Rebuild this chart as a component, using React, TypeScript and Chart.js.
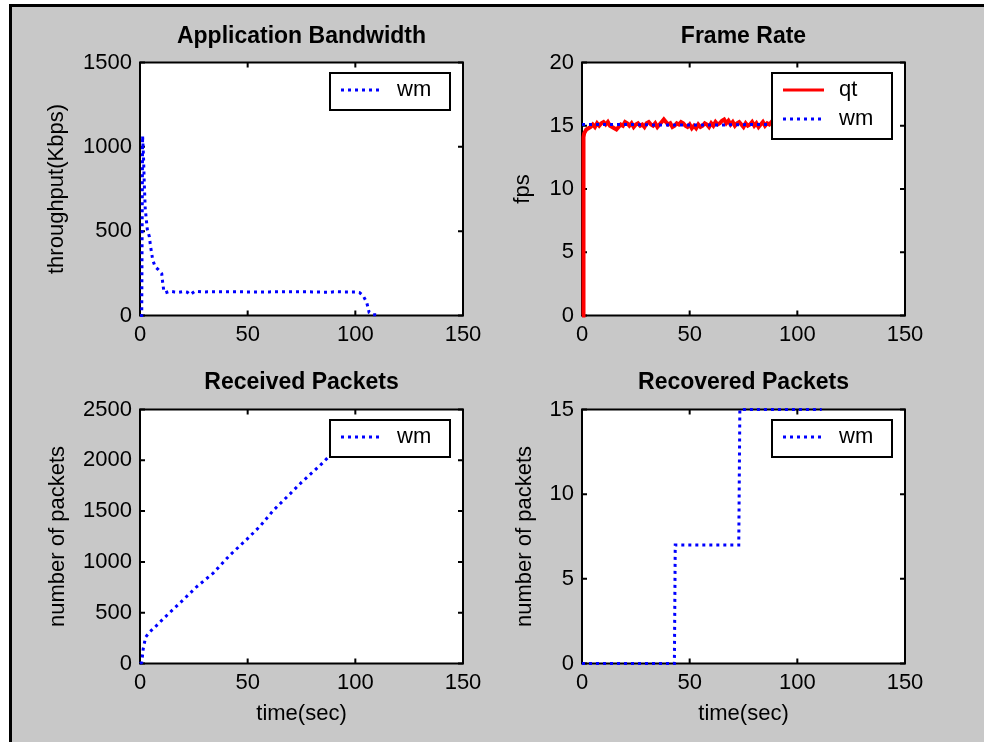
import { useEffect, useRef } from "react";
import { Chart, registerables } from "chart.js";

Chart.register(...registerables);

const FONT = '"Liberation Sans", Arial, Helvetica, sans-serif';
const BLUE = "#0000ff";
const RED = "#ff0000";

// ---- Application Bandwidth (wm), Kbps over time ----
const bwTime = [
  0, 0.8, 1.2, 1.6, 2.0, 2.4, 3.0, 3.4, 4.3, 4.9, 5.4, 5.9, 7.0, 8.5, 10.1, 10.4,
  11.0, 11.6, 13.9, 16, 18, 20, 22, 23.2, 25.5, 30, 40, 50, 60, 70, 80, 88, 90, 95,
  100, 102, 103.6, 105.3, 106.4, 108, 110,
];
const bwKbps = [
  0, 0, 1065, 950, 780, 640, 560, 510, 470, 410, 370, 330, 290, 272, 248, 210,
  150, 134, 144, 140, 138, 142, 138, 124, 144, 140, 141, 140, 140, 141, 140, 137, 141, 140,
  140, 135, 118, 77, 18, 5, 4,
];

// ---- Frame Rate, fps over time ----
const qtTime = [
  0, 0.6, 0.7, 1, 2, 3, 4, 5, 6, 7, 8, 9, 10, 11, 12, 13, 14, 15, 16, 17, 18, 19, 20,
  21, 22, 23, 24, 25, 26, 27, 28, 29, 30, 31, 32, 33, 34, 35, 36, 37, 38, 39, 40,
  41, 42, 43, 44, 45, 46, 47, 48, 49, 50, 51, 52, 53, 54, 55, 56, 57, 58, 59, 60,
  61, 62, 63, 64, 65, 66, 67, 68, 69, 70, 71, 72, 73, 74, 75, 76, 77, 78, 79, 80,
  81, 82, 83, 84, 85, 86, 87, 88, 89, 90, 91, 92, 93, 94, 95, 96, 97, 98, 99, 100,
  101, 102, 103, 104, 105, 106, 107, 108, 109, 110,
];
const qtFps = [
  0, 0, 14.1, 14.4, 14.7, 14.8, 14.9, 15.1, 14.9, 15.2, 15.0, 15.2, 15.3, 15.1, 15.3, 15.0, 14.9, 14.8, 14.7, 14.9, 15.1, 15.0, 15.3,
  15.2, 15.0, 15.2, 14.9, 15.1, 15.2, 15.0, 15.1, 14.9, 15.2, 15.3, 15.1, 15.0, 15.2, 14.9, 15.1, 15.3, 15.5, 15.3, 15.1,
  15.2, 14.9, 15.0, 15.2, 15.1, 15.3, 15.2, 15.0, 14.9, 15.1, 14.8, 15.0, 14.8, 15.1, 14.9, 15.0, 15.2, 15.1, 14.9, 15.2,
  15.0, 15.3, 15.1, 15.2, 15.4, 15.5, 15.2, 15.4, 15.1, 15.3, 15.0, 15.2, 15.3, 15.1, 14.9, 15.2, 15.0, 15.1, 15.3, 15.0,
  15.2, 14.9, 15.1, 15.3, 15.0, 15.2, 15.1, 15.3, 15.0, 15.2, 15.1, 14.9, 15.2, 15.0, 15.1, 15.3, 15.0, 15.2, 15.1, 14.9,
  15.2, 15.0, 15.1, 15.2, 15.0, 15.1, 15.3, 15.0, 15.1, 15.2,
];
const wmFpsTime = [0, 20, 40, 60, 80, 110];
const wmFps = [15.1, 15.1, 15.05, 15.05, 15.1, 15.1];

// ---- Received Packets (cumulative) ----
const rcvTime = [
  0, 0.8, 1.5, 2.6, 4.5, 6.9, 10.8, 15, 20, 26.3, 34, 41.8, 49.5, 55.7, 61.9,
  69.7, 75.1, 83.6, 88.2, 95, 100, 104, 106,
];
const rcvPackets = [
  0, 10, 145, 259, 310, 357, 440, 525, 625, 755, 890, 1068, 1220, 1350, 1506,
  1670, 1785, 1949, 2047, 2180, 2280, 2350, 2370,
];

// ---- Recovered Packets (cumulative) ----
const recTime = [0, 42.9, 43.3, 72.8, 73.3, 111.3];
const recPackets = [0, 0, 7, 7, 15, 15];

// ---- Axis ticks ----
const timeTicks = [0, 50, 100, 150];
const bwTicks = [0, 500, 1000, 1500];
const fpsTicks = [0, 5, 10, 15, 20];
const rcvTicks = [0, 500, 1000, 1500, 2000, 2500];
const recTicks = [0, 5, 10, 15];

const toPoints = (xs: number[], ys: number[]) => xs.map((x, i) => ({ x, y: ys[i] }));

// White axes box with inward tick marks on all four sides.
const axesBox = {
  id: "axesBox",
  beforeDraw(chart: any) {
    const { ctx, chartArea: a } = chart;
    ctx.save();
    ctx.fillStyle = "#ffffff";
    ctx.fillRect(a.left, a.top, a.right - a.left, a.bottom - a.top);
    ctx.restore();
  },
  beforeDatasetsDraw(chart: any) {
    const { ctx, chartArea: a, scales } = chart;
    const len = 5;
    ctx.save();
    ctx.strokeStyle = "#000";
    ctx.lineWidth = 2;
    ctx.beginPath();
    for (const t of scales.x.ticks) {
      const px = scales.x.getPixelForValue(t.value);
      ctx.moveTo(px, a.bottom);
      ctx.lineTo(px, a.bottom - len);
      ctx.moveTo(px, a.top);
      ctx.lineTo(px, a.top + len);
    }
    for (const t of scales.y.ticks) {
      const py = scales.y.getPixelForValue(t.value);
      ctx.moveTo(a.left, py);
      ctx.lineTo(a.left + len, py);
      ctx.moveTo(a.right, py);
      ctx.lineTo(a.right - len, py);
    }
    ctx.stroke();
    ctx.strokeRect(a.left, a.top, a.right - a.left, a.bottom - a.top);
    ctx.restore();
  },
};

// Opaque boxed legend in the upper right corner of the axes.
const boxLegend = {
  id: "boxLegend",
  afterDatasetsDraw(chart: any) {
    const { ctx, chartArea: a } = chart;
    const sets = chart.data.datasets;
    const w = 120;
    const h = 37 + 29 * (sets.length - 1);
    const left = a.right - 13 - w;
    const top = a.top + 10.5;
    ctx.save();
    ctx.fillStyle = "#ffffff";
    ctx.fillRect(left, top, w, h);
    ctx.lineWidth = 2;
    ctx.strokeStyle = "#000";
    ctx.strokeRect(left, top, w, h);
    sets.forEach((ds: any, i: number) => {
      const y = top + 17 + i * 29;
      ctx.beginPath();
      ctx.setLineDash(ds.borderDash || []);
      ctx.lineCap = "butt";
      ctx.lineWidth = Math.min(ds.borderWidth, 3);
      ctx.strokeStyle = ds.borderColor;
      ctx.moveTo(left + 11, y);
      ctx.lineTo(left + 52, y);
      ctx.stroke();
      ctx.setLineDash([]);
      ctx.fillStyle = "#000";
      ctx.font = `22px ${FONT}`;
      ctx.textBaseline = "middle";
      ctx.textAlign = "left";
      ctx.fillText(ds.label, left + 67, y);
    });
    ctx.restore();
  },
};

type PanelSpec = {
  title: string;
  yTitle: string;
  xTitle?: string;
  yMax: number;
  yTicks: number[];
  datasets: any[];
  yWidth: number;
  padRight: number;
  titlePad: { top: number; bottom: number };
  yTitlePad: number;
  xHeight: number;
  xTitlePad?: number;
};

// Dotted blue series, drawn above any solid series (lower order = on top).
function dotted(label: string, xs: number[], ys: number[]) {
  return {
    label,
    data: toPoints(xs, ys),
    borderColor: BLUE,
    borderWidth: 3,
    borderDash: [3, 4],
    pointRadius: 0,
    tension: 0,
    clip: false,
    order: 0,
  };
}

function solid(label: string, xs: number[], ys: number[], color: string) {
  return {
    label,
    data: toPoints(xs, ys),
    borderColor: color,
    borderWidth: 4,
    pointRadius: 0,
    tension: 0,
    clip: false,
    order: 1,
  };
}

const plainLabel = (v: any) => String(v);

function makeConfig(p: PanelSpec): any {
  const tickFont = { family: FONT, size: 22 };
  return {
    type: "line",
    data: { datasets: p.datasets },
    plugins: [axesBox, boxLegend],
    options: {
      responsive: false,
      animation: false,
      events: [],
      layout: { padding: { left: 0, right: p.padRight, top: 0, bottom: 0 } },
      plugins: {
        legend: { display: false },
        tooltip: { enabled: false },
        title: {
          display: true,
          text: p.title,
          fullSize: false,
          color: "#000",
          font: { family: FONT, size: 23, weight: "bold" },
          padding: p.titlePad,
        },
      },
      scales: {
        x: {
          type: "linear",
          min: 0,
          max: 150,
          afterBuildTicks: (s: any) => {
            s.ticks = timeTicks.map((v) => ({ value: v }));
          },
          afterFit: (s: any) => {
            s.height = p.xHeight;
            s.paddingLeft = 0;
            s.paddingRight = 0;
          },
          grid: { display: false, drawTicks: false, tickLength: 0 },
          border: { display: false },
          ticks: {
            color: "#000",
            font: tickFont,
            padding: 6,
            maxRotation: 0,
            autoSkip: false,
            callback: plainLabel,
          },
          title: p.xTitle
            ? {
                display: true,
                text: p.xTitle,
                color: "#000",
                font: tickFont,
                padding: { top: 0, bottom: p.xTitlePad },
              }
            : { display: false },
        },
        y: {
          type: "linear",
          min: 0,
          max: p.yMax,
          afterBuildTicks: (s: any) => {
            s.ticks = p.yTicks.map((v) => ({ value: v }));
          },
          afterFit: (s: any) => {
            s.width = p.yWidth;
            s.paddingTop = 0;
            s.paddingBottom = 0;
          },
          grid: { display: false, drawTicks: false, tickLength: 0 },
          border: { display: false },
          ticks: { color: "#000", font: tickFont, padding: 8, autoSkip: false, callback: plainLabel },
          title: {
            display: true,
            text: p.yTitle,
            color: "#000",
            font: tickFont,
            padding: { top: p.yTitlePad, bottom: 0 },
          },
        },
      },
    },
  };
}

function Panel({ left, top, width, height, spec }: { left: number; top: number; width: number; height: number; spec: PanelSpec }) {
  const ref = useRef<HTMLCanvasElement>(null);
  useEffect(() => {
    const chart = new Chart(ref.current as HTMLCanvasElement, makeConfig(spec));
    return () => chart.destroy();
  }, []);
  return (
    <canvas
      ref={ref}
      width={width}
      height={height}
      style={{ position: "absolute", left, top, width, height }}
    />
  );
}

const bandwidthSpec: PanelSpec = {
  title: "Application Bandwidth",
  yTitle: "throughput(Kbps)",
  yMax: 1500,
  yTicks: bwTicks,
  datasets: [dotted("wm", bwTime, bwKbps)],
  yWidth: 126,
  padRight: 21,
  titlePad: { top: 14.4, bottom: 12.5 },
  yTitlePad: 29.8,
  xHeight: 44.5,
};

const frameRateSpec: PanelSpec = {
  title: "Frame Rate",
  yTitle: "fps",
  yMax: 20,
  yTicks: fpsTicks,
  datasets: [solid("qt", qtTime, qtFps, RED), dotted("wm", wmFpsTime, wmFps)],
  yWidth: 86,
  padRight: 61,
  titlePad: { top: 14.4, bottom: 12.5 },
  yTitlePad: 13.3,
  xHeight: 44.5,
};

const receivedSpec: PanelSpec = {
  title: "Received Packets",
  yTitle: "number of packets",
  xTitle: "time(sec)",
  yMax: 2500,
  yTicks: rcvTicks,
  datasets: [dotted("wm", rcvTime, rcvPackets)],
  yWidth: 126,
  padRight: 21,
  titlePad: { top: 9, bottom: 12.9 },
  yTitlePad: 30.3,
  xHeight: 78.5,
  xTitlePad: 15.3,
};

const recoveredSpec: PanelSpec = {
  title: "Recovered Packets",
  yTitle: "number of packets",
  xTitle: "time(sec)",
  yMax: 15,
  yTicks: recTicks,
  datasets: [dotted("wm", recTime, recPackets)],
  yWidth: 86,
  padRight: 61,
  titlePad: { top: 9, bottom: 12.9 },
  yTitlePad: 15.8,
  xHeight: 78.5,
  xTitlePad: 15.3,
};

export default function App() {
  return (
    <div
      style={{
        position: "fixed",
        left: 0,
        top: 0,
        width: 984,
        height: 742,
        background: "#ffffff",
        overflow: "hidden",
      }}
    >
      <div
        style={{
          position: "absolute",
          left: 9,
          top: 4,
          width: 975,
          height: 738,
          boxSizing: "border-box",
          background: "#c8c8c8",
          borderLeft: "3px solid #000",
          borderTop: "3px solid #000",
        }}
      />
      <Panel left={14} top={8} width={470} height={352} spec={bandwidthSpec} />
      <Panel left={496} top={8} width={470} height={352} spec={frameRateSpec} />
      <Panel left={14} top={360} width={470} height={382} spec={receivedSpec} />
      <Panel left={496} top={360} width={470} height={382} spec={recoveredSpec} />
    </div>
  );
}
